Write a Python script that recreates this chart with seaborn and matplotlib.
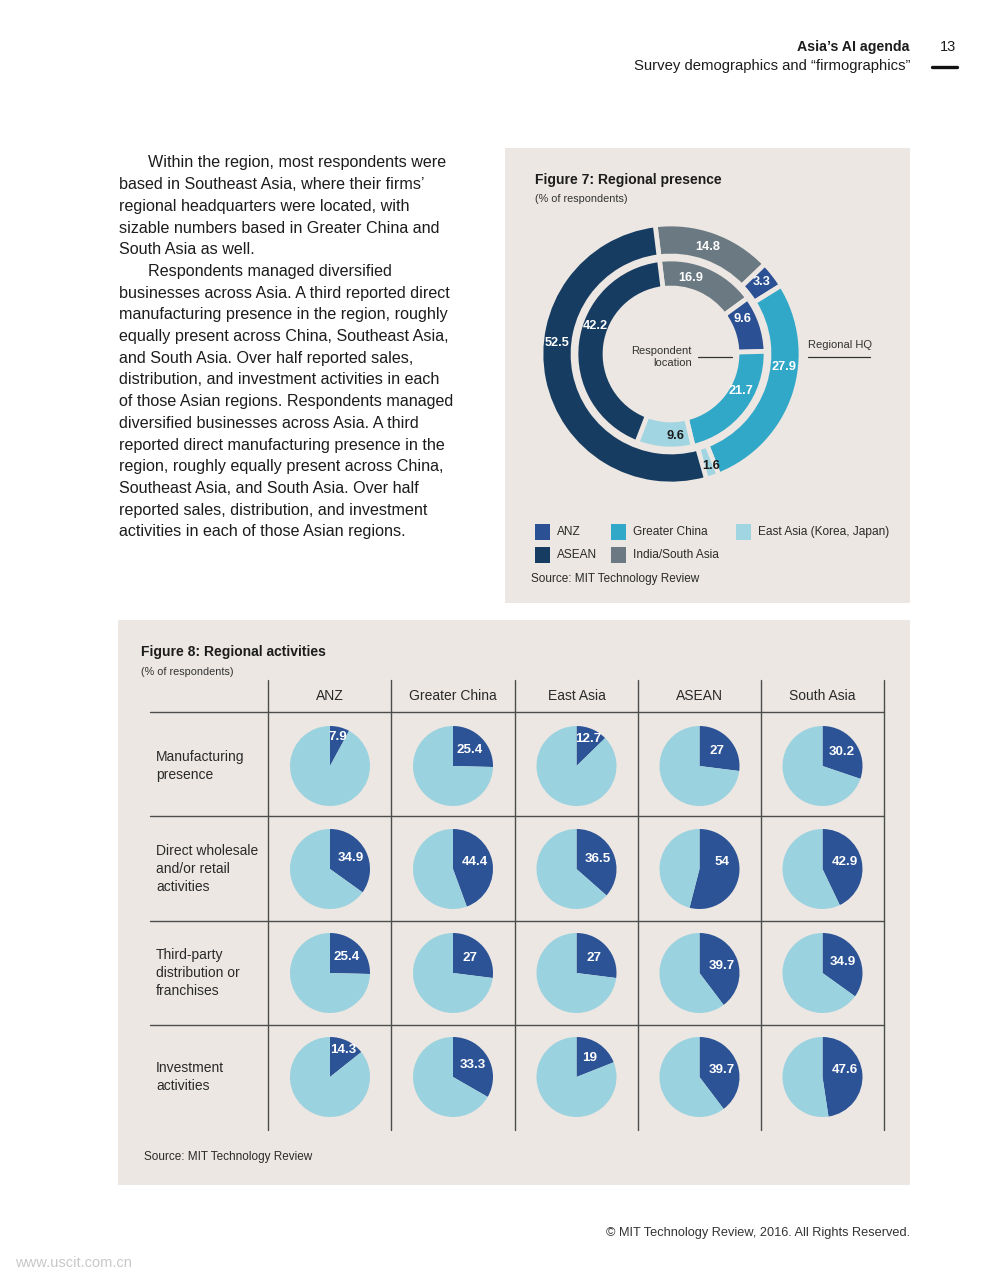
import numpy as np
import matplotlib
matplotlib.use("Agg")
import matplotlib.pyplot as plt
from matplotlib.patches import Rectangle
from matplotlib.lines import Line2D
import seaborn as sns

sns.set_theme(style="white")
plt.rcParams['font.family'] = ['Liberation Sans', 'DejaVu Sans']

# ---------------- data ----------------
donut_regions = ["India/South Asia", "ANZ", "Greater China", "East Asia (Korea, Japan)", "ASEAN"]
hq_values = [14.8, 3.3, 27.9, 1.6, 52.5]          # outer ring: Regional HQ
location_values = [16.9, 9.6, 21.7, 9.6, 42.2]    # inner ring: Respondent location
legend_order = ["ANZ", "Greater China", "East Asia (Korea, Japan)", "ASEAN", "India/South Asia"]

activity_regions = ["ANZ", "Greater China", "East Asia", "ASEAN", "South Asia"]
activity_names = ["Manufacturing\npresence",
                  "Direct wholesale\nand/or retail\nactivities",
                  "Third-party\ndistribution or\nfranchises",
                  "Investment\nactivities"]
manufacturing = [7.9, 25.4, 12.7, 27, 30.2]
wholesale = [34.9, 44.4, 36.5, 54, 42.9]
third_party = [25.4, 27, 27, 39.7, 34.9]
investment = [14.3, 33.3, 19, 39.7, 47.6]
activity_values = [manufacturing, wholesale, third_party, investment]

body_lines = [
    "Within the region, most respondents were",
    "based in Southeast Asia, where their firms\u2019",
    "regional headquarters were located, with",
    "sizable numbers based in Greater China and",
    "South Asia as well.",
    "Respondents managed diversified",
    "businesses across Asia. A third reported direct",
    "manufacturing presence in the region, roughly",
    "equally present across China, Southeast Asia,",
    "and South Asia. Over half reported sales,",
    "distribution, and investment activities in each",
    "of those Asian regions. Respondents managed",
    "diversified businesses across Asia. A third",
    "reported direct manufacturing presence in the",
    "region, roughly equally present across China,",
    "Southeast Asia, and South Asia. Over half",
    "reported sales, distribution, and investment",
    "activities in each of those Asian regions.",
]
indented = {0, 5}

# ---------------- style ----------------
BG = "#ece7e2"
region_colors = {
    "ANZ": "#2b5093",
    "Greater China": "#31a8c8",
    "East Asia (Korea, Japan)": "#a0d5e1",
    "ASEAN": "#173c61",
    "India/South Asia": "#6b7982",
}
PIE_DARK = "#2b5396"
PIE_LIGHT = "#9bd2df"
INK = "#1c1c1c"
GRID = "#4d4d4d"

W, H = 995, 1280
fig = plt.figure(figsize=(W / 100, H / 100), dpi=100)
fig.patch.set_facecolor("white")


def fx(x):
    return x / W


def fy(y):
    return 1 - y / H


def txt(x, y, s, **kw):
    kw.setdefault("color", INK)
    kw.setdefault("va", "center")
    fig.text(fx(x), fy(y), s, **kw)


def panel(x0, y0, x1, y1):
    fig.patches.append(Rectangle((fx(x0), fy(y1)), (x1 - x0) / W, (y1 - y0) / H,
                                 transform=fig.transFigure, facecolor=BG,
                                 edgecolor="none", zorder=-5))


def hline(x0, x1, y, lw=1.0, color=GRID):
    fig.add_artist(Line2D([fx(x0), fx(x1)], [fy(y), fy(y)], transform=fig.transFigure,
                          color=color, lw=lw, zorder=3))


# ---------------- header ----------------
txt(910, 47, "Asia\u2019s AI agenda", ha="right", fontsize=10.2, fontweight="bold")
txt(910, 66, "Survey demographics and \u201cfirmographics\u201d", ha="right", fontsize=10.7)
txt(948, 47, "13", ha="center", fontsize=10.5)
hline(932, 957, 67, lw=2.4, color="#111111")

# ---------------- body text ----------------
for i, line in enumerate(body_lines):
    x = 148 if i in indented else 119
    txt(x, 163 + i * 21.7, line, ha="left", fontsize=11.6)

# ---------------- Figure 7 ----------------
panel(505, 148, 910, 603)
txt(535, 180, "Figure 7: Regional presence", ha="left", fontsize=10, fontweight="bold")
txt(535, 199, "(% of respondents)", ha="left", fontsize=7.8, color="#333333")

cx, cy, R = 671, 354, 130.0
half = 160
START = 97
ax = fig.add_axes([fx(cx - half), fy(cy + half), 2 * half / W, 2 * half / H])
cols = [region_colors[r] for r in donut_regions]
wp = dict(edgecolor=BG, linewidth=3.4)
ax.pie(hq_values, radius=1.0, colors=cols, startangle=START, counterclock=False,
       wedgeprops=dict(width=32 / R, **wp))
ax.pie(location_values, radius=95 / R, colors=cols, startangle=START, counterclock=False,
       wedgeprops=dict(width=29 / R, **wp))
lim = half / R
ax.set_xlim(-lim, lim)
ax.set_ylim(-lim, lim)
ax.set_aspect("equal")
ax.axis("off")


def ring_labels(values, radii, shifts):
    total = sum(values)
    cum = 0
    for v, name, r, sh in zip(values, donut_regions, radii, shifts):
        mid = cum + v / 2
        cum += v
        ang = np.deg2rad(START - 360 * mid / total + sh)
        col = INK if name.startswith("East Asia") else "white"
        ax.text(r * np.cos(ang), r * np.sin(ang), f"{v:g}", ha="center", va="center",
                fontsize=9.2, fontweight="bold", color=col)


ring_labels(hq_values, [0.875, 0.89, 0.875, 0.915, 0.88], [0.5, 0.5, 11.5, 1, -17])
ring_labels(location_values, [0.6, 0.61, 0.61, 0.63, 0.62], [9, 7, 10, 7, -13])

txt(692, 357, "Respondent\nlocation", ha="right", fontsize=8, color="#333333",
    linespacing=1.25)
hline(698, 732, 357, lw=0.9, color="#333333")
txt(808, 345, "Regional HQ", ha="left", fontsize=8, color="#333333")
hline(808, 870, 357, lw=0.9, color="#333333")

# legend
leg_pos = {"ANZ": (535, 532), "Greater China": (611, 532),
           "East Asia (Korea, Japan)": (736, 532),
           "ASEAN": (535, 555), "India/South Asia": (611, 555)}
for name in legend_order:
    x, y = leg_pos[name]
    fig.patches.append(Rectangle((fx(x), fy(y + 8)), 15 / W, 16 / H,
                                 transform=fig.transFigure,
                                 facecolor=region_colors[name], edgecolor="none"))
    txt(x + 22, y, name, ha="left", fontsize=8.6, color="#2a2a2a")
txt(531, 579, "Source: MIT Technology Review", ha="left", fontsize=8.5, color="#2a2a2a")

# ---------------- Figure 8 ----------------
panel(118, 620, 910, 1185)
txt(141, 652, "Figure 8: Regional activities", ha="left", fontsize=10, fontweight="bold")
txt(141, 672, "(% of respondents)", ha="left", fontsize=7.8, color="#333333")

ax2 = fig.add_axes([fx(118), fy(1185), 792 / W, 565 / H])
col_edges = [268, 391, 515, 638, 761, 884]
row_edges = [712, 816, 921, 1025]
col_centers = [330, 453, 576.5, 699.5, 822.5]
row_centers = [766, 869, 973, 1077]
PR = 40

for i, vals in enumerate(activity_values):
    for j, v in enumerate(vals):
        c = (col_centers[j], H - row_centers[i])
        ax2.pie([v, 100 - v], colors=[PIE_DARK, PIE_LIGHT], startangle=90,
                counterclock=False, center=c, radius=PR, frame=True,
                wedgeprops=dict(linewidth=0))
        mid = np.deg2rad(90 - 360 * min(v, 40) / 2 / 100)
        r = PR * (0.74 if v < 15 else 0.58)
        ax2.text(c[0] + r * np.cos(mid), c[1] + r * np.sin(mid), f"{v:g}",
                 ha="center", va="center", fontsize=9.6, fontweight="bold",
                 color="white")

for x in col_edges:
    ax2.plot([x, x], [H - 680, H - 1130], color=GRID, lw=1.0)
for y in row_edges:
    ax2.plot([150, 884], [H - y, H - y], color=GRID, lw=1.0)

ax2.set_xlim(118, 910)
ax2.set_ylim(H - 1185, H - 620)
ax2.set_aspect("equal")
ax2.axis("off")

for j, name in enumerate(activity_regions):
    txt((col_edges[j] + col_edges[j + 1]) / 2, 696, name, ha="center", fontsize=10,
        color="#2a2a2a")
for i, name in enumerate(activity_names):
    txt(156, row_centers[i], name, ha="left", fontsize=10, color="#2a2a2a",
        linespacing=1.35)

txt(144, 1157, "Source: MIT Technology Review", ha="left", fontsize=8.5, color="#2a2a2a")

# ---------------- footer ----------------
txt(910, 1233, "\u00a9 MIT Technology Review, 2016. All Rights Reserved.", ha="right",
    fontsize=9.2, color="#333333")
txt(15, 1263, "www.uscit.com.cn", ha="left", fontsize=10.5, color="#c8c8c8")

fig.savefig("out.png", dpi=100, facecolor="white")
